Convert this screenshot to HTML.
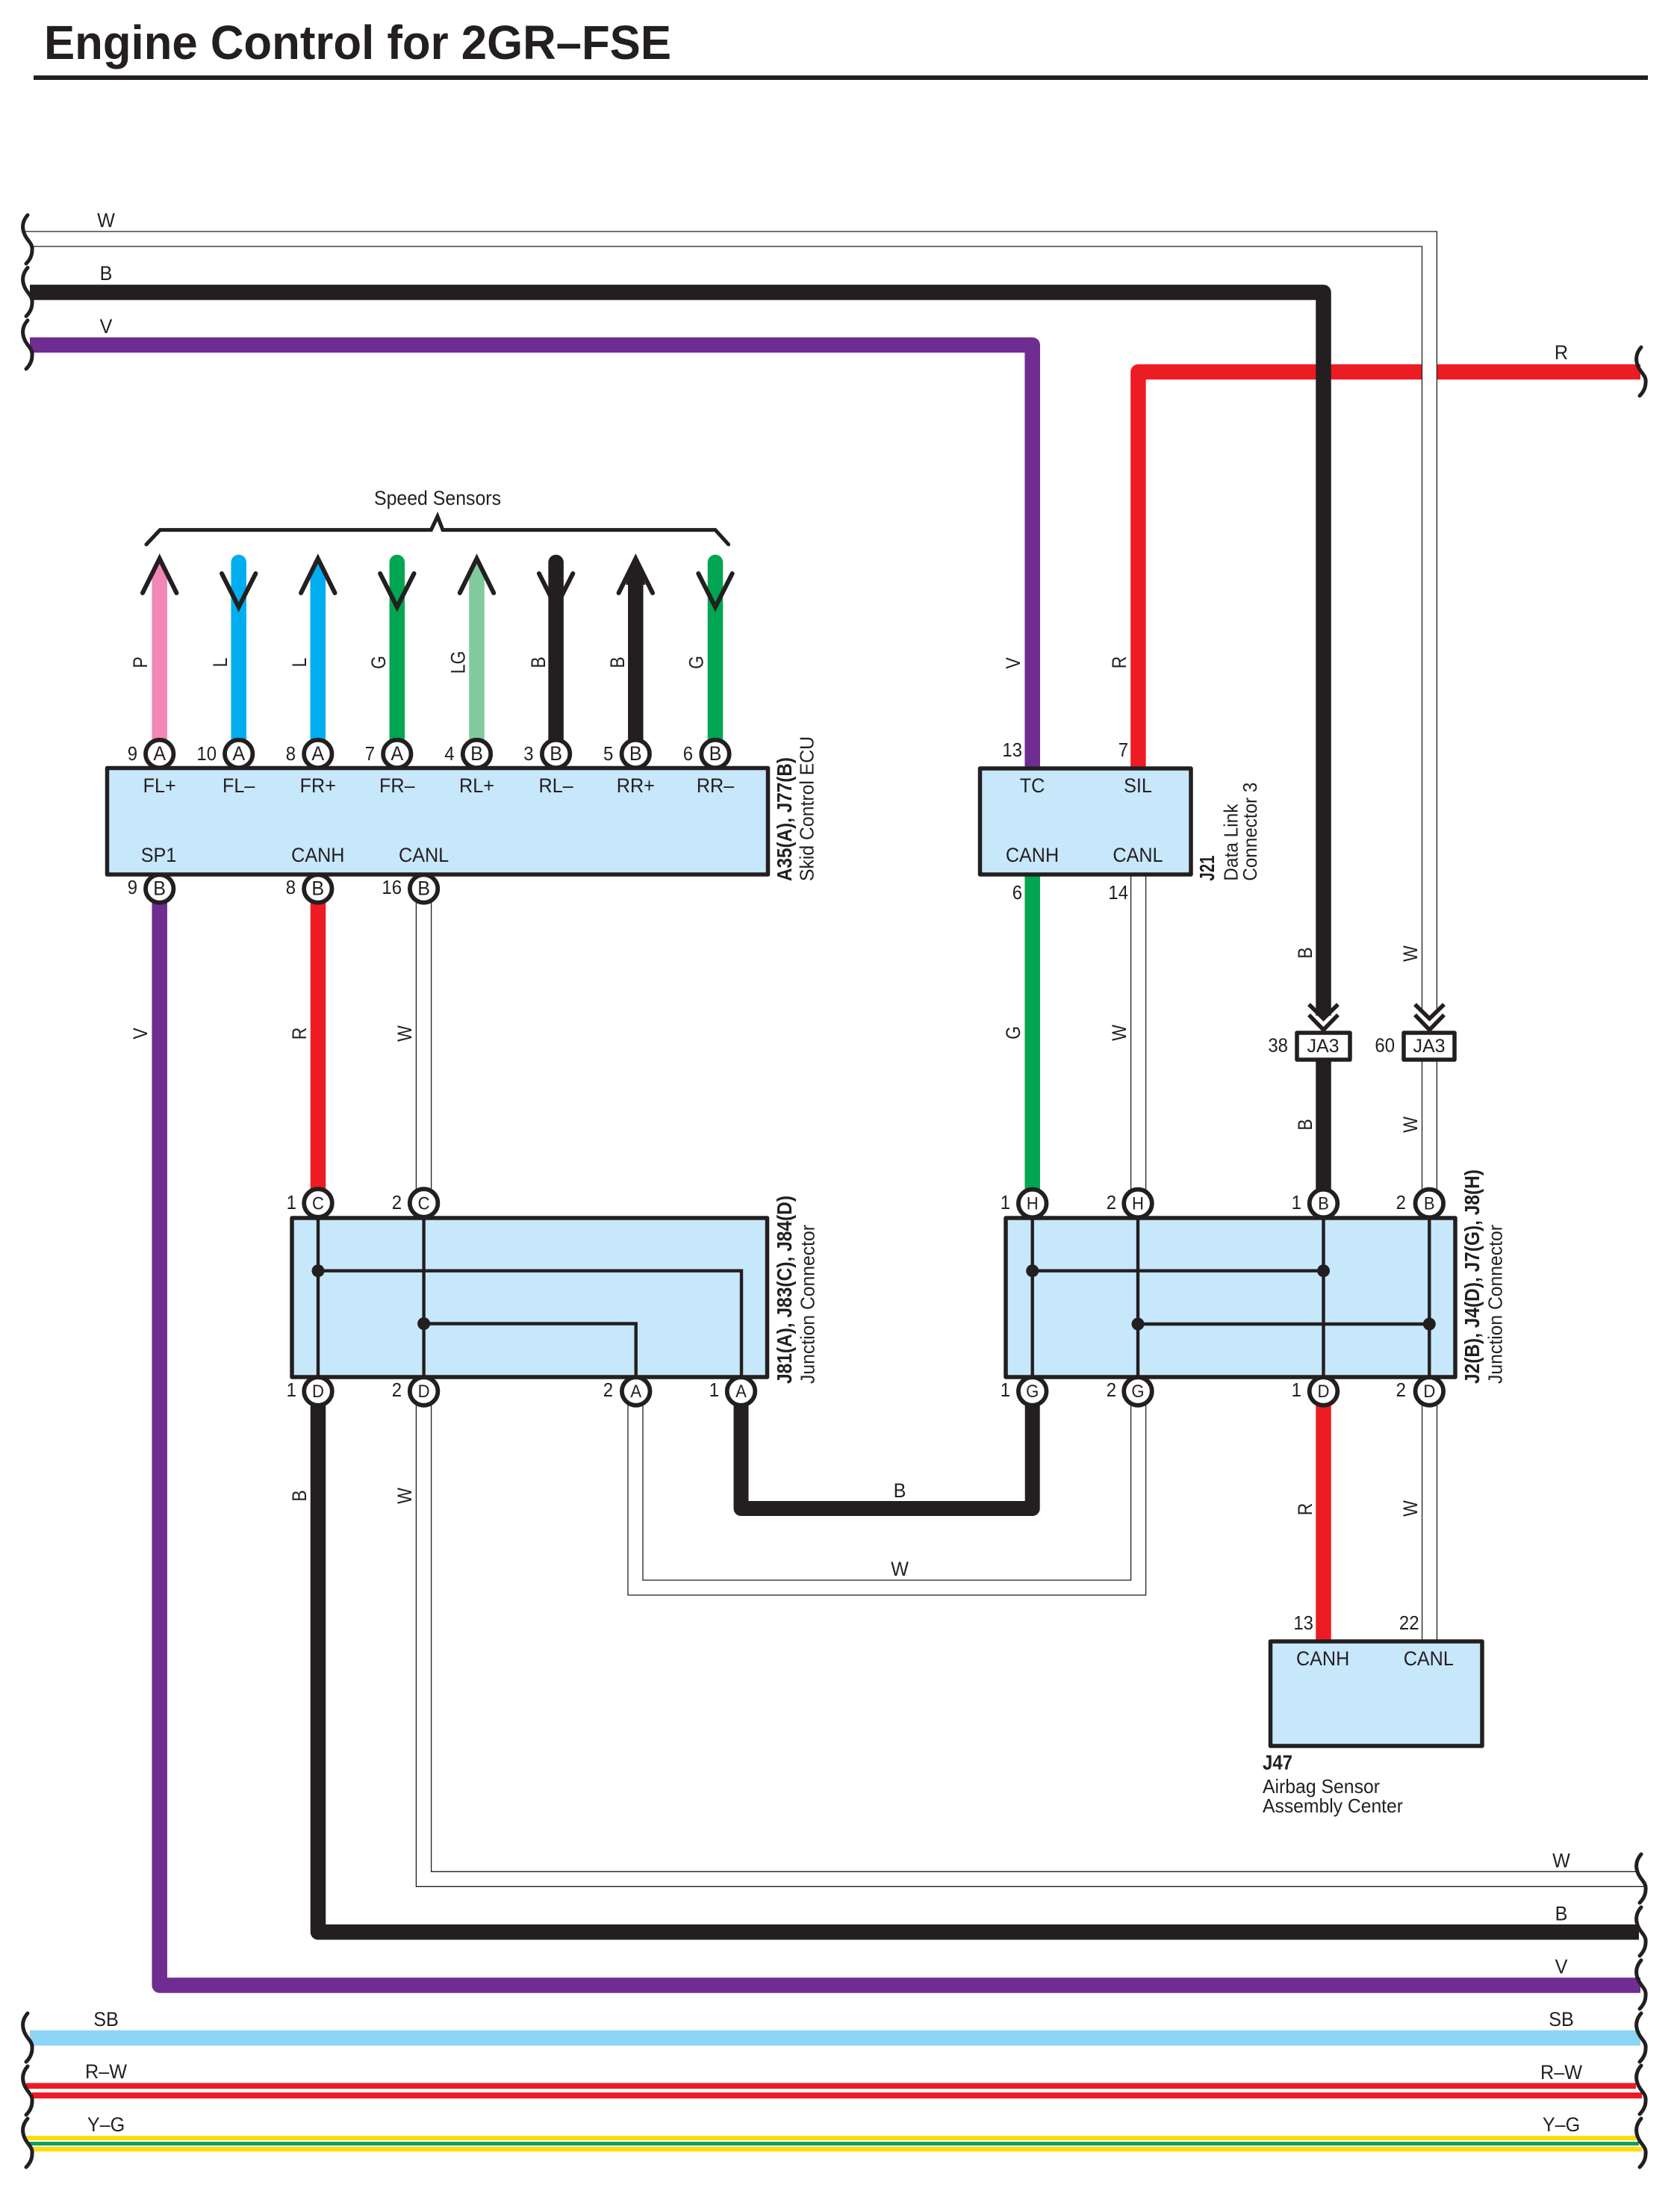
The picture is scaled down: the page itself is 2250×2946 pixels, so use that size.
<!DOCTYPE html>
<html><head><meta charset="utf-8"><title>Engine Control for 2GR–FSE</title>
<style>
html,body{margin:0;padding:0;background:#fff}
svg{display:block}
text{font-family:"Liberation Sans",sans-serif;fill:#231f20}
.t{font-size:26.5px;text-anchor:middle;transform-box:fill-box;transform-origin:center;transform:scaleX(.95)}
.p{font-size:24px;text-anchor:middle;transform-box:fill-box;transform-origin:center;transform:scaleX(.92)}
.d{font-size:26px;text-anchor:end;transform-box:fill-box;transform-origin:right;transform:scaleX(.92)}
.r{font-size:27px;text-anchor:middle}
.s{font-size:26px}
.b{font-weight:bold;font-size:28px}
.w{fill:none;stroke-linejoin:round;stroke-linecap:butt;stroke-width:20.5}
.h{fill:none;stroke:#231f20;stroke-width:1.3}
.k{fill:none;stroke:#231f20;stroke-width:6;stroke-linecap:round;stroke-linejoin:miter;stroke-miterlimit:8}
.box{fill:#c7e7fb;stroke:#231f20;stroke-width:5.5;stroke-linejoin:round}
.c{fill:#fff;stroke:#231f20;stroke-width:5.8}
.i{fill:none;stroke:#231f20;stroke-width:4.4}
.dot{fill:#231f20}
.wv{fill:none;stroke:#231f20;stroke-width:5;stroke-linecap:round}
</style></head>
<body>
<svg xmlns="http://www.w3.org/2000/svg" width="2250" height="2946" viewBox="0 0 2250 2946">
<defs>
<path id="wl" d="M37,0 C30,8 29,17 33,26 C37,35 44,38 43,47 C43,54 40,60 35,65" class="wv"/>
</defs>
<rect width="2250" height="2946" fill="#fff"/>

<!-- title -->
<text x="59" y="79" font-size="64" font-weight="bold" textLength="840" lengthAdjust="spacingAndGlyphs">Engine Control for 2GR–FSE</text>
<rect x="45" y="101" width="2162" height="6" fill="#231f20"/>

<!-- long wires -->
<path class="w" stroke="#ed1c24" d="M1524.4,1032 V498 H2197"/>
<path class="w" stroke="#6f2c91" d="M40,462 H1382.7 V1032"/>
<path class="w" stroke="#231f20" d="M40,391.5 H1772.5 V1360"/>
<path class="w" stroke="#231f20" d="M1772.5,1419 V1611"/>

<!-- W top -->
<rect x="1905" y="480" width="19" height="36" fill="#fff"/>
<path class="h" d="M34,310 H1924.4 V1355"/>
<path class="h" d="M44,330 H1904.5 V1355"/>

<!-- sensor wires: up-arrow ones end in a point, down-arrow ones round -->
<path class="w" stroke="#f287b7" d="M213.7,775 V1010"/>
<polygon points="203.5,776 213.7,744 223.9,776" fill="#f287b7"/>
<path class="w" stroke="#00aeef" d="M319.7,753 V1010" style="stroke-linecap:round"/>
<path class="w" stroke="#00aeef" d="M425.8,775 V1010"/>
<polygon points="415.6,776 425.8,744 436,776" fill="#00aeef"/>
<path class="w" stroke="#00a651" d="M531.8,753 V1010" style="stroke-linecap:round"/>
<path class="w" stroke="#82ca9c" d="M638.5,775 V1010"/>
<polygon points="628.3,776 638.5,744 648.7,776" fill="#82ca9c"/>
<path class="w" stroke="#231f20" d="M744.6,753 V1010" style="stroke-linecap:round"/>
<path class="w" stroke="#231f20" d="M851.3,775 V1010"/>
<path class="w" stroke="#00a651" d="M958,753 V1010" style="stroke-linecap:round"/>

<!-- arrows -->
<g class="k" fill="none">
<path d="M191,794 L213.7,748 L236.4,794"/>
<path d="M297,768 L319.7,813 L342.4,768"/>
<path d="M403.1,794 L425.8,748 L448.5,794"/>
<path d="M509.1,768 L531.8,813 L554.5,768"/>
<path d="M615.8,794 L638.5,748 L661.2,794"/>
<path d="M721.9,768 L744.6,813 L767.3,768"/>
<path d="M828.6,794 L851.3,748 L874,794"/>
<path d="M935.3,768 L958,813 L980.7,768"/>
</g>
<polygon points="838,783 851.3,746 864.6,783" fill="#231f20"/>

<!-- bracket -->
<path d="M196,729 L214.3,709.6 H577.4 L586,691.4 L593,709.6 H958 L975.6,729" fill="none" stroke="#231f20" stroke-width="5" stroke-linecap="round"/>
<text x="586" y="676" font-size="27" text-anchor="middle" textLength="170" lengthAdjust="spacingAndGlyphs">Speed Sensors</text>

<!-- middle verticals -->
<path class="w" stroke="#6f2c91" d="M213.7,1190 V2658.5 H2197"/>
<path class="w" stroke="#ed1c24" d="M426,1190 V1611"/>
<path class="h" d="M557.4,1190 V1611 M577.6,1190 V1611"/>
<path class="w" stroke="#231f20" d="M426,1863 V2587.3 H2195"/>
<path class="h" d="M577.6,1863 V2506.3 H2191"/>
<path class="h" d="M557.4,1863 V2526.3 H2203"/>
<path class="w" stroke="#00a651" d="M1382.7,1171 V1611"/>
<path class="h" d="M1514.6,1171 V1611 M1534.6,1171 V1611"/>
<path class="h" d="M1904.5,1419 V1611 M1924.4,1419 V1611"/>
<path class="w" stroke="#231f20" style="stroke-width:20" d="M992.5,1863 V2020 H1382.7 V1863"/>
<path class="h" d="M861,1863 V2116 H1514.6 V1863"/>
<path class="h" d="M841,1863 V2136 H1534.6 V1863"/>
<path class="w" stroke="#ed1c24" d="M1772.5,1863 V2198"/>
<path class="h" d="M1904.6,1863 V2198 M1924.5,1863 V2198"/>

<!-- bottom wires -->
<path class="w" stroke="#8dd5f6" d="M40,2729 H2197"/>
<rect x="35" y="2789.3" width="2156" height="7.7" fill="#ed1c24"/>
<rect x="43" y="2802" width="2156" height="8" fill="#ed1c24"/>
<rect x="35" y="2860" width="2156" height="6" fill="#ffdd00"/>
<rect x="39" y="2868" width="2156" height="5" fill="#0f9f59"/>
<rect x="43" y="2875" width="2156" height="6" fill="#ffdd00"/>

<!-- wave symbols left -->
<use href="#wl" y="288"/><use href="#wl" y="358.5"/><use href="#wl" y="429"/>
<use href="#wl" y="2696"/><use href="#wl" y="2767"/><use href="#wl" y="2837"/>
<!-- wave symbols right -->
<use href="#wl" x="2161" y="465"/>
<use href="#wl" x="2161" y="2483"/><use href="#wl" x="2161" y="2554"/><use href="#wl" x="2161" y="2625"/>
<use href="#wl" x="2161" y="2696"/><use href="#wl" x="2161" y="2766"/><use href="#wl" x="2161" y="2837"/>

<!-- ECU -->
<rect class="box" x="143.5" y="1028.5" width="885" height="142.5"/>
<g class="c">
<circle cx="213.7" cy="1009.5" r="18.7"/><circle cx="319.7" cy="1009.5" r="18.7"/><circle cx="425.8" cy="1009.5" r="18.7"/><circle cx="531.8" cy="1009.5" r="18.7"/>
<circle cx="638.5" cy="1009.5" r="18.7"/><circle cx="744.6" cy="1009.5" r="18.7"/><circle cx="851.3" cy="1009.5" r="18.7"/><circle cx="958" cy="1009.5" r="18.7"/>
<circle cx="213.7" cy="1190" r="18.7"/><circle cx="425.8" cy="1190" r="18.7"/><circle cx="567.6" cy="1190" r="18.7"/>
</g>
<g>
<text class="t" x="213.7" y="1018">A</text><text class="t" x="319.7" y="1018">A</text><text class="t" x="425.8" y="1018">A</text><text class="t" x="531.8" y="1018">A</text>
<text class="t" x="638.5" y="1018">B</text><text class="t" x="744.6" y="1018">B</text><text class="t" x="851.3" y="1018">B</text><text class="t" x="958" y="1018">B</text>
<text class="t" x="213.7" y="1198.5">B</text><text class="t" x="425.8" y="1198.5">B</text><text class="t" x="567.6" y="1198.5">B</text>
<text class="d" x="184" y="1018">9</text><text class="d" x="290" y="1018">10</text><text class="d" x="396" y="1018">8</text><text class="d" x="502" y="1018">7</text>
<text class="d" x="608.5" y="1018">4</text><text class="d" x="714.6" y="1018">3</text><text class="d" x="821.3" y="1018">5</text><text class="d" x="928" y="1018">6</text>
<text class="d" x="184" y="1197">9</text><text class="d" x="396" y="1197">8</text><text class="d" x="538" y="1197">16</text>
<text class="t" x="213.7" y="1061">FL+</text><text class="t" x="319.7" y="1061">FL–</text><text class="t" x="425.8" y="1061">FR+</text><text class="t" x="531.8" y="1061">FR–</text>
<text class="t" x="638.5" y="1061">RL+</text><text class="t" x="744.6" y="1061">RL–</text><text class="t" x="851.3" y="1061">RR+</text><text class="t" x="958" y="1061">RR–</text>
<text class="t" x="212.5" y="1154">SP1</text><text class="t" x="425.8" y="1154">CANH</text><text class="t" x="567.6" y="1154">CANL</text>
</g>
<text class="s b" transform="translate(1060,1180) rotate(-90)" textLength="166" lengthAdjust="spacingAndGlyphs">A35(A), J77(B)</text>
<text class="s" transform="translate(1089.4,1180) rotate(-90)" textLength="194" lengthAdjust="spacingAndGlyphs">Skid Control ECU</text>

<!-- DLC -->
<rect class="box" x="1312.5" y="1029" width="282.5" height="142"/>
<text class="t" x="1382.5" y="1061">TC</text><text class="t" x="1524" y="1061">SIL</text>
<text class="t" x="1382.5" y="1154">CANH</text><text class="t" x="1524" y="1154">CANL</text>
<text class="d" x="1369" y="1013">13</text><text class="d" x="1511" y="1013">7</text>
<text class="d" x="1369" y="1204">6</text><text class="d" x="1511" y="1204">14</text>
<text class="s b" transform="translate(1626,1179.6) rotate(-90)" textLength="34" lengthAdjust="spacingAndGlyphs">J21</text>
<text class="s" transform="translate(1657.5,1179.6) rotate(-90)" textLength="103" lengthAdjust="spacingAndGlyphs">Data Link</text>
<text class="s" transform="translate(1683,1179.6) rotate(-90)" textLength="132" lengthAdjust="spacingAndGlyphs">Connector 3</text>

<!-- JA3 -->
<g fill="none" stroke="#231f20" stroke-width="5.5">
<path d="M1753,1345 L1772.5,1364 L1792,1345 M1753,1359 L1772.5,1379 L1792,1359"/>
<path d="M1895,1345 L1914.5,1364 L1934,1345 M1895,1359 L1914.5,1379 L1934,1359"/>
</g>
<rect x="1737" y="1383" width="71" height="36" fill="#fff" stroke="#231f20" stroke-width="5.5" stroke-linejoin="round"/>
<rect x="1880" y="1383" width="68" height="36" fill="#fff" stroke="#231f20" stroke-width="5.5" stroke-linejoin="round"/>
<text class="p" x="1772" y="1409" style="transform:none;font-size:25px">JA3</text><text class="p" x="1914" y="1409" style="transform:none;font-size:25px">JA3</text>
<text class="d" x="1725" y="1408.5">38</text><text class="d" x="1868" y="1408.5">60</text>

<!-- Junction 1 -->
<rect class="box" x="391" y="1631" width="636.5" height="213"/>
<path class="i" d="M426,1631 V1844 M567.6,1631 V1844 M426,1701.7 H993 V1844 M567.6,1772.5 H851.7 V1844"/>
<circle class="dot" cx="426" cy="1701.7" r="8.5"/><circle class="dot" cx="567.6" cy="1772.5" r="8.5"/>
<circle class="c" cx="426" cy="1611" r="18.8"/><circle class="c" cx="567.6" cy="1611" r="18.8"/>
<circle class="c" cx="426" cy="1863" r="18.8"/><circle class="c" cx="567.6" cy="1863" r="18.8"/><circle class="c" cx="851.7" cy="1863" r="18.8"/><circle class="c" cx="992.5" cy="1863" r="18.8"/>
<text class="p" x="426" y="1619.5">C</text><text class="p" x="567.6" y="1619.5">C</text>
<text class="p" x="426" y="1871">D</text><text class="p" x="567.6" y="1871">D</text><text class="p" x="851.7" y="1871">A</text><text class="p" x="992.5" y="1871">A</text>
<text class="d" x="397" y="1619">1</text><text class="d" x="538" y="1619">2</text>
<text class="d" x="397" y="1870">1</text><text class="d" x="538" y="1870">2</text><text class="d" x="821" y="1870">2</text><text class="d" x="963" y="1870">1</text>
<text class="s b" transform="translate(1060,1853) rotate(-90)" textLength="252" lengthAdjust="spacingAndGlyphs">J81(A), J83(C), J84(D)</text>
<text class="s" transform="translate(1090.5,1853) rotate(-90)" textLength="213" lengthAdjust="spacingAndGlyphs">Junction Connector</text>

<!-- Junction 2 -->
<rect class="box" x="1347" y="1631" width="602" height="213"/>
<path class="i" d="M1382.7,1631 V1844 M1524,1631 V1844 M1772.5,1631 V1844 M1914.3,1631 V1844 M1382.7,1701.7 H1772.5 M1524,1773 H1914.3"/>
<circle class="dot" cx="1382.7" cy="1701.7" r="8.5"/><circle class="dot" cx="1772.5" cy="1701.7" r="8.5"/>
<circle class="dot" cx="1524" cy="1773" r="8.5"/><circle class="dot" cx="1914.3" cy="1773" r="8.5"/>
<circle class="c" cx="1382.7" cy="1611.5" r="18.8"/><circle class="c" cx="1524" cy="1611.5" r="18.8"/><circle class="c" cx="1772.5" cy="1611.5" r="18.8"/><circle class="c" cx="1914.3" cy="1611.5" r="18.8"/>
<circle class="c" cx="1382.7" cy="1863" r="18.8"/><circle class="c" cx="1524" cy="1863" r="18.8"/><circle class="c" cx="1772.5" cy="1863" r="18.8"/><circle class="c" cx="1914.3" cy="1863" r="18.8"/>
<text class="p" x="1382.7" y="1619.5">H</text><text class="p" x="1524" y="1619.5">H</text><text class="p" x="1772.5" y="1619.5">B</text><text class="p" x="1914.3" y="1619.5">B</text>
<text class="p" x="1382.7" y="1871">G</text><text class="p" x="1524" y="1871">G</text><text class="p" x="1772.5" y="1871">D</text><text class="p" x="1914.3" y="1871">D</text>
<text class="d" x="1353" y="1619">1</text><text class="d" x="1495" y="1619">2</text><text class="d" x="1743" y="1619">1</text><text class="d" x="1883" y="1619">2</text>
<text class="d" x="1353" y="1870">1</text><text class="d" x="1495" y="1870">2</text><text class="d" x="1743" y="1870">1</text><text class="d" x="1883" y="1870">2</text>
<text class="s b" transform="translate(1981,1853) rotate(-90)" textLength="287" lengthAdjust="spacingAndGlyphs">J2(B), J4(D), J7(G), J8(H)</text>
<text class="s" transform="translate(2011.4,1853) rotate(-90)" textLength="213" lengthAdjust="spacingAndGlyphs">Junction Connector</text>

<!-- J47 -->
<rect class="box" x="1701.5" y="2198" width="283.5" height="140"/>
<text class="t" x="1771.6" y="2230">CANH</text><text class="t" x="1913.3" y="2230">CANL</text>
<text class="d" x="1759" y="2182">13</text><text class="d" x="1900.5" y="2182">22</text>
<text class="s b" x="1691" y="2369.5" textLength="40" lengthAdjust="spacingAndGlyphs">J47</text>
<text class="s" x="1691" y="2401" textLength="157" lengthAdjust="spacingAndGlyphs">Airbag Sensor</text>
<text class="s" x="1691" y="2427" textLength="188" lengthAdjust="spacingAndGlyphs">Assembly Center</text>

<!-- horizontal wire labels -->
<text class="t" x="142" y="304">W</text><text class="t" x="142" y="375">B</text><text class="t" x="142" y="446">V</text>
<text class="t" x="142" y="2713">SB</text><text class="t" x="142" y="2783">R–W</text><text class="t" x="142" y="2854">Y–G</text>
<text class="t" x="2091" y="481">R</text>
<text class="t" x="2091" y="2500.7">W</text><text class="t" x="2091" y="2571.7">B</text><text class="t" x="2091" y="2642.7">V</text>
<text class="t" x="2091" y="2713">SB</text><text class="t" x="2091" y="2784">R–W</text><text class="t" x="2091" y="2854">Y–G</text>
<text class="t" x="1205" y="2005">B</text><text class="t" x="1205" y="2110">W</text>

<!-- vertical wire labels -->
<g class="r">
<text class="r" transform="translate(197,887) rotate(-90) scale(.85,1)">P</text>
<text class="r" transform="translate(304,887) rotate(-90) scale(.85,1)">L</text>
<text class="r" transform="translate(410,887) rotate(-90) scale(.85,1)">L</text>
<text class="r" transform="translate(516,887) rotate(-90) scale(.85,1)">G</text>
<text class="r" transform="translate(622.5,887) rotate(-90) scale(.85,1)">LG</text>
<text class="r" transform="translate(730,887) rotate(-90) scale(.85,1)">B</text>
<text class="r" transform="translate(836,887) rotate(-90) scale(.85,1)">B</text>
<text class="r" transform="translate(941.5,887) rotate(-90) scale(.85,1)">G</text>
<text class="r" transform="translate(197,1384) rotate(-90) scale(.85,1)">V</text>
<text class="r" transform="translate(410,1384) rotate(-90) scale(.85,1)">R</text>
<text class="r" transform="translate(551,1384) rotate(-90) scale(.85,1)">W</text>
<text class="r" transform="translate(1366,888) rotate(-90) scale(.85,1)">V</text>
<text class="r" transform="translate(1508,887) rotate(-90) scale(.85,1)">R</text>
<text class="r" transform="translate(1366,1383) rotate(-90) scale(.85,1)">G</text>
<text class="r" transform="translate(1508,1383) rotate(-90) scale(.85,1)">W</text>
<text class="r" transform="translate(1757,1276) rotate(-90) scale(.85,1)">B</text>
<text class="r" transform="translate(1898,1277) rotate(-90) scale(.85,1)">W</text>
<text class="r" transform="translate(1757,1506) rotate(-90) scale(.85,1)">B</text>
<text class="r" transform="translate(1898,1506) rotate(-90) scale(.85,1)">W</text>
<text class="r" transform="translate(410,2003) rotate(-90) scale(.85,1)">B</text>
<text class="r" transform="translate(551,2003) rotate(-90) scale(.85,1)">W</text>
<text class="r" transform="translate(1757,2021) rotate(-90) scale(.85,1)">R</text>
<text class="r" transform="translate(1898,2020) rotate(-90) scale(.85,1)">W</text>
</g>
</svg>
</body></html>
